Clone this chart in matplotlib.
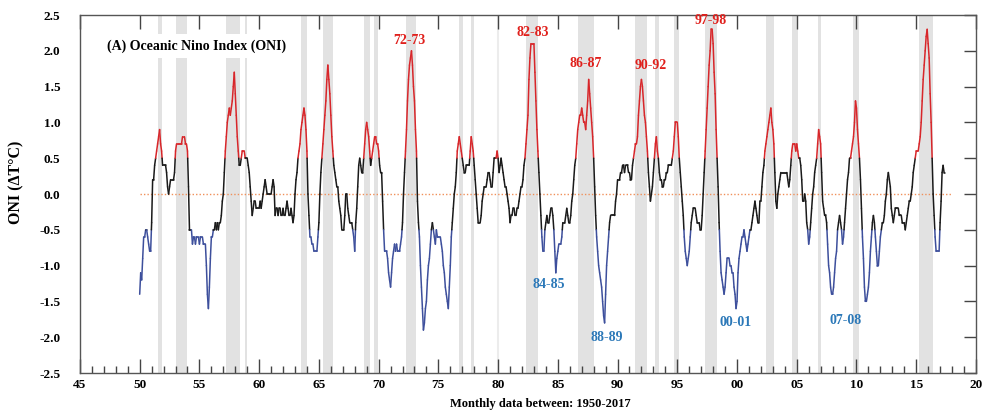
import numpy as np
import matplotlib
matplotlib.use("Agg")
import matplotlib.pyplot as plt
from matplotlib.collections import LineCollection

plt.rcParams['font.family'] = 'serif'
plt.rcParams['font.serif'] = ['Liberation Serif', 'DejaVu Serif']
plt.rcParams['font.weight'] = 'bold'

# monthly ONI values, one row per year
oni_1950s = [
    -1.4, -1.1, -1.2, -0.9, -0.6, -0.6, -0.5, -0.5, -0.6, -0.7, -0.8, -0.8,
    -0.4, 0.2, 0.2, 0.4, 0.5, 0.6, 0.7, 0.8, 0.9, 0.7, 0.6, 0.4,
    0.4, 0.4, 0.4, 0.3, 0.1, 0.0, 0.1, 0.2, 0.2, 0.2, 0.2, 0.3,
    0.6, 0.7, 0.7, 0.7, 0.7, 0.7, 0.7, 0.8, 0.8, 0.8, 0.7, 0.7,
    0.6, 0.1, -0.5, -0.5, -0.5, -0.7, -0.6, -0.6, -0.7, -0.6, -0.6, -0.6,
    -0.7, -0.6, -0.6, -0.6, -0.7, -0.7, -0.7, -1.0, -1.4, -1.6, -1.3, -0.9,
    -0.6, -0.6, -0.5, -0.5, -0.4, -0.5, -0.4, -0.5, -0.4, -0.4, -0.3, -0.1,
    0.0, 0.3, 0.6, 0.8, 1.0, 1.1, 1.2, 1.1, 1.2, 1.3, 1.5, 1.7,
    1.4, 1.1, 0.8, 0.6, 0.4, 0.4, 0.5, 0.6, 0.6, 0.6, 0.5, 0.5,
    0.5, 0.4, 0.3, 0.1, -0.1, -0.3, -0.2, -0.1, -0.1, -0.2, -0.2, -0.2,
]
oni_1960s = [
    -0.2, -0.1, -0.2, -0.1, 0.0, 0.1, 0.2, 0.1, 0.0, 0.0, 0.0, 0.0,
    0.0, 0.1, 0.2, 0.1, -0.3, -0.2, -0.2, -0.3, -0.2, -0.2, -0.3, -0.3,
    -0.2, -0.3, -0.3, -0.2, -0.1, -0.2, -0.3, -0.3, -0.2, -0.3, -0.4, -0.3,
    0.0, 0.2, 0.3, 0.5, 0.6, 0.7, 0.9, 1.0, 1.1, 1.2, 1.1, 0.9,
    0.6, 0.0, -0.3, -0.6, -0.6, -0.7, -0.7, -0.8, -0.8, -0.8, -0.8, -0.6,
    -0.4, 0.0, 0.3, 0.5, 0.7, 0.9, 1.1, 1.3, 1.6, 1.8, 1.6, 1.4,
    1.1, 0.8, 0.6, 0.4, 0.3, 0.2, 0.1, 0.1, -0.1, -0.2, -0.3, -0.5,
    -0.5, -0.5, -0.3, 0.0, 0.0, -0.2, -0.3, -0.4, -0.4, -0.4, -0.5, -0.6,
    -0.8, -0.4, -0.2, 0.1, 0.4, 0.5, 0.4, 0.3, 0.3, 0.5, 0.7, 0.9,
    1.0, 0.9, 0.8, 0.6, 0.4, 0.5, 0.6, 0.7, 0.8, 0.8, 0.7, 0.7,
]
oni_1970s = [
    0.6, 0.4, 0.3, 0.3, -0.1, -0.5, -0.8, -0.8, -0.8, -0.9, -1.1, -1.2,
    -1.3, -1.1, -0.9, -0.8, -0.7, -0.8, -0.7, -0.8, -0.8, -0.8, -0.7, -0.6,
    -0.4, 0.0, 0.3, 0.6, 0.9, 1.3, 1.6, 1.8, 1.9, 2.0, 1.8, 1.5,
    1.3, 0.9, 0.6, -0.1, -0.4, -0.6, -1.0, -1.3, -1.6, -1.9, -1.8, -1.6,
    -1.5, -1.2, -1.0, -0.9, -0.7, -0.5, -0.4, -0.5, -0.6, -0.7, -0.5, -0.6,
    -0.6, -0.6, -0.6, -0.7, -0.8, -1.0, -1.1, -1.3, -1.4, -1.5, -1.6, -1.3,
    -1.0, -0.6, -0.4, -0.2, 0.0, 0.1, 0.3, 0.6, 0.7, 0.8, 0.7, 0.6,
    0.5, 0.4, 0.3, 0.3, 0.4, 0.4, 0.4, 0.4, 0.6, 0.8, 0.7, 0.6,
    0.4, 0.2, 0.0, -0.2, -0.4, -0.4, -0.4, -0.3, -0.1, 0.0, 0.1, 0.1,
    0.1, 0.2, 0.3, 0.3, 0.2, 0.1, 0.1, 0.3, 0.5, 0.5, 0.5, 0.6,
]
oni_1980s = [
    0.5, 0.3, 0.4, 0.5, 0.4, 0.3, 0.2, 0.1, 0.1, 0.0, -0.1, -0.2,
    -0.4, -0.3, -0.3, -0.2, -0.2, -0.3, -0.3, -0.2, -0.2, -0.1, 0.0, 0.1,
    0.1, 0.2, 0.4, 0.5, 0.7, 0.9, 1.1, 1.6, 1.9, 2.1, 2.1, 2.1,
    2.1, 1.7, 1.3, 0.9, 0.6, 0.3, 0.0, -0.3, -0.6, -0.8, -0.8, -0.5,
    -0.4, -0.3, -0.4, -0.4, -0.3, -0.2, -0.2, -0.3, -0.5, -0.8, -1.1, -0.9,
    -0.8, -0.7, -0.7, -0.7, -0.6, -0.4, -0.4, -0.4, -0.3, -0.2, -0.3, -0.4,
    -0.4, -0.3, -0.1, 0.0, 0.2, 0.4, 0.5, 0.7, 0.9, 1.0, 1.1, 1.1,
    1.2, 1.1, 1.0, 1.0, 0.9, 1.1, 1.3, 1.6, 1.4, 1.2, 1.0, 0.8,
    0.5, 0.1, -0.3, -0.6, -0.8, -1.0, -1.1, -1.2, -1.3, -1.5, -1.7, -1.8,
    -1.4, -1.0, -0.8, -0.6, -0.4, -0.3, -0.3, -0.3, -0.3, -0.3, -0.1, 0.0,
]
oni_1990s = [
    0.2, 0.2, 0.2, 0.3, 0.3, 0.4, 0.4, 0.3, 0.4, 0.4, 0.4, 0.3,
    0.3, 0.2, 0.2, 0.4, 0.5, 0.6, 0.7, 0.7, 0.8, 1.1, 1.3, 1.5,
    1.6, 1.5, 1.3, 1.1, 1.0, 0.8, 0.6, 0.3, 0.1, -0.1, 0.0, 0.1,
    0.3, 0.5, 0.7, 0.8, 0.6, 0.5, 0.3, 0.2, 0.2, 0.1, 0.1, 0.2,
    0.2, 0.3, 0.3, 0.4, 0.4, 0.4, 0.4, 0.5, 0.6, 0.8, 1.0, 1.0,
    1.0, 0.8, 0.5, 0.3, 0.1, -0.1, -0.3, -0.6, -0.8, -0.9, -1.0, -0.9,
    -0.8, -0.6, -0.4, -0.3, -0.2, -0.2, -0.2, -0.3, -0.4, -0.4, -0.4, -0.5,
    -0.5, -0.3, 0.0, 0.3, 0.6, 0.9, 1.2, 1.5, 1.8, 2.0, 2.3, 2.3,
    2.1, 1.7, 1.4, 0.9, 0.5, 0.1, -0.4, -0.8, -1.1, -1.2, -1.3, -1.4,
    -1.3, -1.1, -0.9, -0.9, -0.9, -1.0, -1.0, -1.1, -1.1, -1.3, -1.4, -1.6,
]
oni_2000s = [
    -1.5, -1.1, -0.9, -0.8, -0.7, -0.6, -0.6, -0.5, -0.6, -0.7, -0.8, -0.7,
    -0.6, -0.5, -0.5, -0.4, -0.3, -0.2, -0.1, -0.2, -0.3, -0.4, -0.4, -0.1,
    -0.1, 0.1, 0.3, 0.4, 0.6, 0.7, 0.8, 0.9, 1.0, 1.1, 1.2, 1.0,
    0.9, 0.7, 0.3, -0.1, -0.2, 0.0, 0.1, 0.2, 0.3, 0.3, 0.3, 0.3,
    0.3, 0.3, 0.3, 0.2, 0.1, 0.2, 0.4, 0.6, 0.7, 0.7, 0.7, 0.6,
    0.7, 0.6, 0.5, 0.5, 0.4, 0.2, -0.1, -0.1, 0.0, -0.1, -0.4, -0.5,
    -0.7, -0.6, -0.4, -0.2, 0.0, 0.1, 0.3, 0.4, 0.5, 0.7, 0.9, 0.8,
    0.7, 0.3, -0.1, -0.2, -0.3, -0.3, -0.4, -0.7, -1.0, -1.1, -1.3, -1.4,
    -1.4, -1.3, -1.1, -0.9, -0.8, -0.5, -0.4, -0.3, -0.4, -0.5, -0.7, -0.6,
    -0.4, -0.2, 0.0, 0.2, 0.3, 0.5, 0.5, 0.6, 0.7, 0.8, 1.0, 1.3,
]
oni_2010s = [
    1.2, 0.9, 0.7, 0.5, 0.2, -0.2, -0.6, -0.9, -1.3, -1.5, -1.5, -1.4,
    -1.3, -1.1, -0.8, -0.6, -0.4, -0.3, -0.4, -0.6, -0.8, -1.0, -1.0, -0.8,
    -0.6, -0.5, -0.4, -0.4, -0.3, -0.1, 0.0, 0.2, 0.3, 0.2, 0.1, -0.2,
    -0.3, -0.4, -0.3, -0.2, -0.2, -0.2, -0.2, -0.3, -0.3, -0.3, -0.4, -0.4,
    -0.4, -0.5, -0.4, -0.3, -0.2, -0.1, -0.1, 0.0, 0.1, 0.3, 0.4, 0.5,
    0.6, 0.6, 0.6, 0.7, 0.8, 1.0, 1.3, 1.6, 1.8, 2.0, 2.2, 2.3,
    2.1, 1.9, 1.4, 1.0, 0.5, 0.0, -0.3, -0.6, -0.8, -0.8, -0.8, -0.8,
    -0.4, -0.1, 0.3, 0.4, 0.3, 0.3,
]

# El Nino periods shaded grey (years since 1900)
shade_start = [51.53, 53.02, 57.20, 58.79, 63.48, 65.35, 68.79, 69.60, 72.28, 76.72, 77.70,
               82.33, 86.66, 91.46, 93.13, 94.75, 97.32, 102.43, 104.63, 106.75, 109.74, 115.27]
shade_end = [51.87, 53.96, 58.38, 58.96, 63.99, 66.19, 69.26, 69.96, 73.12, 77.08, 78.00,
             83.36, 88.03, 92.44, 93.49, 95.14, 98.30, 103.12, 105.08, 107.03, 110.24, 116.39]

nino_labels = ['72-73', '82-83', '86-87', '90-92', '97-98']
nina_labels = ['84-85', '88-89', '00-01', '07-08']

xtick_labels = ['45', '50', '55', '60', '65', '70', '75', '80', '85', '90', '95',
                '00', '05', '10', '15', '20']

oni = np.array(oni_1950s + oni_1960s + oni_1970s + oni_1980s + oni_1990s + oni_2000s + oni_2010s)
t = 50 + np.arange(len(oni)) / 12.0


def split_at(x, y, levels):
    # add the points where the curve crosses each level
    xs, ys = [x[0]], [y[0]]
    for i in range(1, len(x)):
        x0, y0, x1, y1 = x[i - 1], y[i - 1], x[i], y[i]
        cuts = []
        for lv in levels:
            if (y0 - lv) * (y1 - lv) < 0:
                f = (lv - y0) / (y1 - y0)
                cuts.append((f, lv))
        for f, lv in sorted(cuts):
            xs.append(x0 + f * (x1 - x0))
            ys.append(lv)
        xs.append(x1)
        ys.append(y1)
    return np.array(xs), np.array(ys)


fig = plt.figure(figsize=(9.86, 4.17), dpi=100)
ax = fig.add_axes([0.0811, 0.1055, 0.9087, 0.8585])

for a, b in zip(shade_start, shade_end):
    ax.axvspan(a, b, color='#e2e2e2', lw=0, zorder=0)
ax.axvline(80.0, color='#ececec', lw=1.5, zorder=0)

ax.hlines(0, t[0], t[-1] + 0.6, colors='#f0905a', linestyles=(0, (1, 1.5)), lw=1.0, zorder=1)

xs, ys = split_at(t, oni, [-0.5, 0.5])
segs = np.stack([np.column_stack([xs[:-1], ys[:-1]]), np.column_stack([xs[1:], ys[1:]])], axis=1)
mid = (ys[:-1] + ys[1:]) / 2
cols = np.where(mid > 0.5, '#d8262a', np.where(mid < -0.5, '#3d4f9c', '#1a1a1a'))
ax.add_collection(LineCollection(segs, colors=cols, linewidths=1.1, zorder=3, capstyle='round'))

ax.text(47.26, 2.07, '(A) Oceanic Nino Index (ONI)', fontsize=10, fontweight='bold',
        ha='left', va='center', zorder=5,
        bbox=dict(facecolor='white', edgecolor='none', pad=4))

for lab, (x, y) in zip(nino_labels, [(72.6, 2.15), (82.9, 2.25), (87.35, 1.82), (92.8, 1.80), (97.8, 2.42)]):
    ax.text(x, y, lab, color='#e0201c', fontsize=10, fontweight='bold', ha='center', va='center', zorder=6)
for lab, (x, y) in zip(nina_labels, [(84.25, -1.26), (89.1, -2.01), (99.9, -1.80), (109.05, -1.76)]):
    ax.text(x, y, lab, color='#2b78b8', fontsize=10, fontweight='bold', ha='center', va='center', zorder=6)

ax.set_xlim(45, 120)
ax.set_ylim(-2.5, 2.5)
ax.set_xticks(np.arange(45, 121, 5))
ax.set_xticklabels(xtick_labels)
ax.set_xticks(np.arange(45, 121, 1), minor=True)
ax.set_yticks(np.arange(-2.5, 2.51, 0.5))
ax.set_yticklabels(['%.1f' % v for v in np.arange(-2.5, 2.51, 0.5)])

ax.tick_params(axis='x', which='major', direction='in', length=10, top=True, bottom=True,
               labelsize=9.5, pad=4, color='#444444', width=1)
ax.tick_params(axis='x', which='minor', direction='in', length=5, top=False, bottom=True,
               color='#444444', width=1)
ax.tick_params(axis='y', which='major', direction='in', length=9, left=False, right=True,
               labelsize=9.5, pad=14, color='#444444', width=1)
for lab in ax.get_xticklabels() + ax.get_yticklabels():
    lab.set_fontweight('bold')

for s in ax.spines.values():
    s.set_color('#555555')
    s.set_linewidth(1.0)

fig.text(16 / 986, 1 - 182 / 417, 'ONI (\u0394T\u00b0C)', rotation=90, fontsize=11.5,
         fontweight='bold', ha='center', va='center')
fig.text(540 / 986, 1 - 404 / 417, 'Monthly data between: 1950-2017', fontsize=9,
         fontweight='bold', ha='center', va='center')

fig.savefig('out.png', dpi=100)
